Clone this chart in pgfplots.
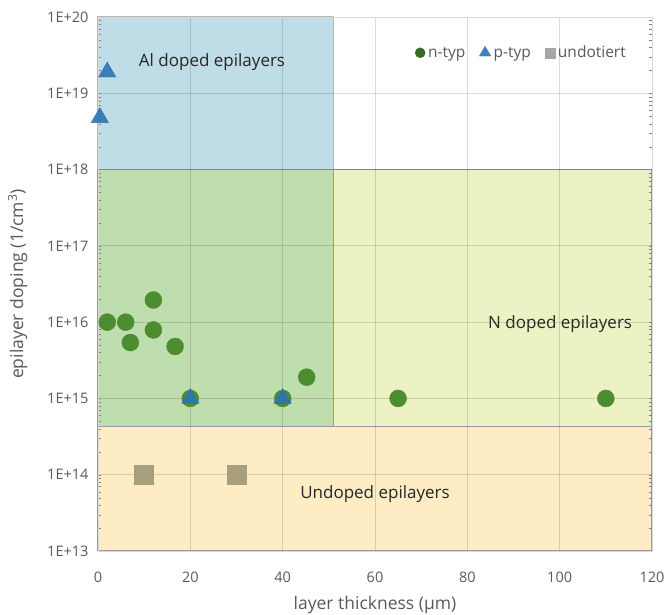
\documentclass[border=0pt]{standalone}
\usepackage{fontspec}
\setmainfont{Open Sans}
\usepackage{pgfplots}
\pgfplotsset{compat=1.18}

\definecolor{rblue}{HTML}{BFDDE7}
\definecolor{rgreen}{HTML}{BEDEAD}
\definecolor{rlime}{HTML}{EDF2C4}
\definecolor{rorange}{HTML}{FEECC4}
\definecolor{rborder}{HTML}{9A9A9A}
\definecolor{ntyp}{HTML}{4E8C30}
\definecolor{ptyp}{HTML}{2E72B4}
\definecolor{undot}{HTML}{A89F7D}
\definecolor{txtgray}{HTML}{595959}

\begin{document}
\begin{tikzpicture}
\begin{axis}[
    set layers,
    scale only axis,
    width=554pt, height=534pt,
    xmin=0, xmax=120,
    ymode=log, ymin=1e13, ymax=1e20,
    xtick={0,20,...,120},
    ytick={1e13,1e14,1e15,1e16,1e17,1e18,1e19,1e20},
    yticklabels={1E+13,1E+14,1E+15,1E+16,1E+17,1E+18,1E+19,1E+20},
    log ticks with fixed point=false,
    /pgf/number format/assume math mode=true,
    major tick length=0pt, minor tick num=0,
    grid=major,
    major grid style={draw=black, draw opacity=0.14, line width=0.9pt},
    axis line style={draw=black!15, line width=0.9pt},
    tick label style={font=\fontsize{14.5}{17}\selectfont, text=txtgray},
    yticklabel style={xshift=-6pt},
    xticklabel style={yshift=-17pt},
    xlabel={layer thickness (µm)},
    ylabel={epilayer doping (1/cm\textsuperscript{3})},
    label style={font=\fontsize{17.5}{20}\selectfont, text=txtgray},
    xlabel style={yshift=-7pt},
    ylabel style={yshift=13pt},
    legend columns=3,
    legend style={at={(rel axis cs:0.962,0.933)}, anchor=east, draw=none, fill=none,
        font=\fontsize{15.5}{18}\selectfont, text=txtgray,
        /tikz/every odd column/.append style={column sep=1pt},
        /tikz/every even column/.append style={column sep=12pt}},
    legend cell align=left,
]
% regions
\addplot[on layer=axis background, fill=rorange, draw=rborder, line width=1.3pt, forget plot]
    coordinates {(0,1e13) (120,1e13) (120,4.3e14) (0,4.3e14) (0,1e13)};
\addplot[on layer=axis background, fill=rlime, draw=rborder, line width=1.3pt, forget plot]
    coordinates {(51,4.3e14) (120,4.3e14) (120,1e18) (51,1e18) (51,4.3e14)};
\addplot[on layer=axis background, fill=rblue, draw=rborder!70, line width=1.1pt, forget plot]
    coordinates {(0,1e18) (51,1e18) (51,1e20) (0,1e20) (0,1e18)};
\addplot[on layer=axis background, fill=rgreen, draw=rborder, line width=1.3pt, forget plot]
    coordinates {(0,4.3e14) (51,4.3e14) (51,1e18) (0,1e18) (0,4.3e14)};

\addplot[only marks, mark=*, mark size=8.5pt, color=ntyp,
    legend image post style={mark size=5pt, color=ntyp!75!black}]
    coordinates {(2,1e16) (6,1e16) (7,5.4e15) (12,1.95e16) (12,7.9e15) (16.7,4.8e15)
                 (20,1e15) (40,1e15) (45.2,1.9e15) (65,1e15) (110,1e15)};
\addlegendentry{n-typ}
\addplot[only marks, mark=triangle*, mark size=10pt, color=ptyp, fill opacity=0.9,
    legend image post style={mark size=6.5pt}]
    coordinates {(2,1.9e19) (0.4,4.8e18) (20,1e15) (40,1e15)};
\addlegendentry{p-typ}
\addplot[only marks, mark=square*, mark size=9.5pt, color=undot,
    legend image post style={mark size=5pt, color=black!35}]
    coordinates {(10,1e14) (30,1e14)};
\addlegendentry{undotiert}

\node[font=\fontsize{17}{20}\selectfont, text=black!85] at (axis cs:24.7,2.57e19) {Al doped epilayers};
\node[font=\fontsize{17}{20}\selectfont, text=black!85] at (axis cs:100.1,9.3e15) {N doped epilayers};
\node[font=\fontsize{17}{20}\selectfont, text=black!85] at (axis cs:60,5.6e13) {Undoped epilayers};
\end{axis}
\pgfresetboundingbox
\path (current axis.south west) ++(-98pt,-63pt) rectangle ++(670pt,614pt);
\end{tikzpicture}
\end{document}
